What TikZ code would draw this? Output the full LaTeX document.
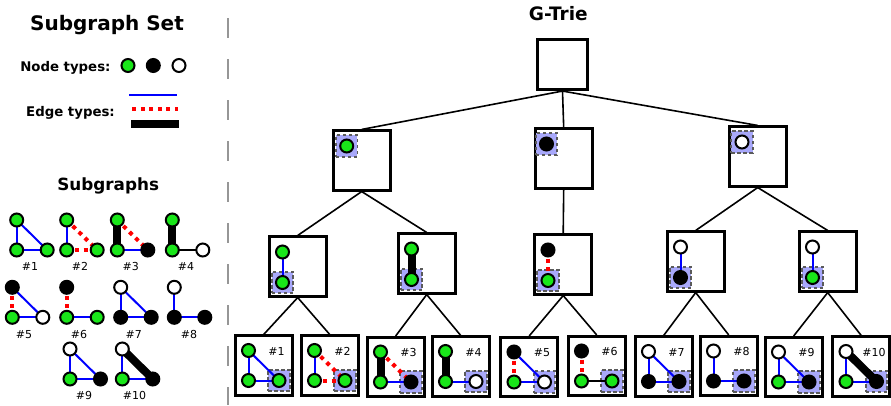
\documentclass[tikz,border=0pt]{standalone}
\usepackage{fontspec}
\setmainfont{DejaVu Sans}
\pgfdeclarelayer{treel}
\pgfdeclarelayer{boxl}
\pgfdeclarelayer{hll}
\pgfdeclarelayer{edgel}
\pgfsetlayers{treel,boxl,hll,edgel,main}
\definecolor{ggreen}{RGB}{25,230,25}
\definecolor{hlblue}{RGB}{168,168,250}
\definecolor{hlgray}{RGB}{90,90,90}
\definecolor{sepgray}{RGB}{150,150,150}
\tikzset{
  vx/.style={circle, draw=black, line width=2pt, minimum size=13pt, inner sep=0pt},
  gn/.style={vx, fill=ggreen},
  bn/.style={vx, fill=black},
  wn/.style={vx, fill=white},
  be/.style={draw=blue, line width=2pt},
  re/.style={draw=red, line width=4pt, dash pattern=on 4pt off 4.5pt},
  ke/.style={draw=black, line width=8pt},
  te/.style={draw=black, line width=1.6pt},
  tbox/.style={draw=black, fill=white, line width=2.6pt, inner sep=0pt, minimum width=57pt, minimum height=59.5pt},
  rbox/.style={draw=black, fill=white, line width=2.6pt, inner sep=0pt, minimum width=50.5pt, minimum height=50.5pt},
  hl/.style={draw=hlgray, fill=hlblue, line width=1.6pt, dash pattern=on 3.5pt off 2.5pt, inner sep=0pt, minimum size=21.5pt},
  tl/.style={draw=black, line width=1.6pt},
  lbl/.style={inner sep=0pt, font=\fontsize{11}{12}\selectfont},
  ttl/.style={inner sep=0pt, font=\bfseries\fontsize{20}{24}\selectfont},
  sub/.style={inner sep=0pt, font=\bfseries\fontsize{13.3}{15}\selectfont},
  sep/.style={draw=sepgray, line width=2pt, dash pattern=on 20pt off 21pt}
}
% leaf: name, x0, y0, label, top, bl, br
\newcommand\mkleaf[7]{%
  \begin{pgfonlayer}{boxl}\node[tbox] (#1) at (#2+29.7,#3+31) {};\end{pgfonlayer}
  \begin{pgfonlayer}{hll}\node[hl] (#1h) at (#2+45,#3+46) {};\end{pgfonlayer}
  \node[#5] (#1t) at (#2+14.5,#3+16) {};
  \node[#6] (#1l) at (#2+14.5,#3+46) {};
  \node[#7] (#1r) at (#2+45,#3+46) {};
  \node[lbl, anchor=base] (#1n) at (#2+42.5,#3+20.7) {#4};
}
% level two: name, x0, y0, top, bottom, edge style
\newcommand\mktwo[6]{%
  \begin{pgfonlayer}{boxl}\node[tbox] (#1) at (#2+29.7,#3+30.5) {};\end{pgfonlayer}
  \begin{pgfonlayer}{hll}\node[hl] (#1h) at (#2+14.5,#3+46.5) {};\end{pgfonlayer}
  \node[#4] (#1t) at (#2+14.5,#3+16) {};
  \node[#5] (#1b) at (#2+14.5,#3+46.5) {};
  \begin{pgfonlayer}{edgel}\draw[#6] (#1t.center) -- (#1b.center);\end{pgfonlayer}
}
% level one: name, x0, y0, style, node x offset
\newcommand\mkone[5]{%
  \begin{pgfonlayer}{boxl}\node[tbox] (#1) at (#2+29.7,#3+30.5) {};\end{pgfonlayer}
  \begin{pgfonlayer}{hll}\node[hl] (#1h) at (#2+#5,#3+16) {};\end{pgfonlayer}
  \node[#4] (#1t) at (#2+#5,#3+16) {};
}
% thumbnail: name, x, y, top, bl, br, label, label x, label baseline
\newcommand\mkthumb[9]{%
  \node[#4] (#1t) at (#2,#3) {};
  \node[#5] (#1l) at (#2,#3+30) {};
  \node[#6] (#1r) at (#2+30.5,#3+30) {};
  \node[lbl, anchor=base] (#1n) at (#8,#9) {#7};
}
\newcommand\eg[3]{\begin{pgfonlayer}{edgel}\draw[#1] (#2.center) -- (#3.center);\end{pgfonlayer}}
\begin{document}
\begin{tikzpicture}[x=1pt,y=-1pt]
\useasboundingbox (0,0) rectangle (891,405);
% ---- left panel ----
\node[ttl, anchor=base] (t1) at (107,30) {Subgraph Set};
\node[sub, anchor=base east] (nt) at (110.7,71) {Node types:};
\node[gn] (lg) at (128,65.5) {};
\node[bn] (lb) at (153.3,65.5) {};
\node[wn] (lw) at (179,65.5) {};
\node[sub, anchor=base east] (et) at (115,116) {Edge types:};
\coordinate (eb1) at (129.3,95.3); \coordinate (eb2) at (177.3,95.3);
\coordinate (er1) at (132.3,108.7); \coordinate (er2) at (178,108.7);
\coordinate (ek1) at (131,124); \coordinate (ek2) at (179,124);
\draw[be] (eb1) -- (eb2);
\draw[re] (er1) -- (er2);
\draw[ke] (ek1) -- (ek2);
\coordinate (s1) at (228,18); \coordinate (s2) at (228,405);
\draw[sep] (s1) -- (s2);
\node[anchor=base, inner sep=0pt, font=\bfseries\fontsize{16.8}{19}\selectfont] (t2) at (108.2,190.7) {Subgraphs};
% thumbnails
\mkthumb{S1}{16.7}{220}{gn}{gn}{gn}{\#1}{30}{270.5}
\eg{be}{S1t}{S1l}\eg{be}{S1l}{S1r}\eg{be}{S1t}{S1r}
\mkthumb{S2}{66.7}{220}{gn}{gn}{gn}{\#2}{80}{270.5}
\eg{be}{S2t}{S2l}\eg{re}{S2l}{S2r}\eg{re}{S2t}{S2r}
\mkthumb{S3}{117.3}{220}{gn}{gn}{bn}{\#3}{130.7}{270.5}
\eg{ke}{S3t}{S3l}\eg{be}{S3l}{S3r}\eg{re}{S3t}{S3r}
\mkthumb{S4}{172.3}{220}{gn}{gn}{wn}{\#4}{186}{270.5}
\eg{ke}{S4t}{S4l}\eg{te}{S4l}{S4r}
\mkthumb{S5}{12.3}{287.3}{bn}{gn}{wn}{\#5}{24}{338}
\eg{re}{S5t}{S5l}\eg{be}{S5l}{S5r}\eg{be}{S5t}{S5r}
\mkthumb{S6}{66.7}{287.3}{bn}{gn}{gn}{\#6}{79}{338}
\eg{re}{S6t}{S6l}\eg{be}{S6l}{S6r}
\mkthumb{S7}{120.7}{287.3}{wn}{bn}{bn}{\#7}{133.7}{338}
\eg{be}{S7t}{S7l}\eg{be}{S7l}{S7r}\eg{be}{S7t}{S7r}
\mkthumb{S8}{174.3}{287.3}{wn}{bn}{bn}{\#8}{189}{338}
\eg{be}{S8t}{S8l}\eg{be}{S8l}{S8r}
\mkthumb{S9}{70}{349}{wn}{gn}{bn}{\#9}{84}{399.3}
\eg{be}{S9t}{S9l}\eg{be}{S9l}{S9r}\eg{be}{S9t}{S9r}
\mkthumb{S10}{122.3}{349}{wn}{gn}{bn}{\#10}{134.5}{399.3}
\eg{be}{S10t}{S10l}\eg{be}{S10l}{S10r}\eg{ke}{S10t}{S10r}
% ---- G-Trie ----
\node[ttl, anchor=base, font=\bfseries\fontsize{18.5}{22}\selectfont] (t3) at (558.3,20.7) {G-Trie};
\begin{pgfonlayer}{boxl}\node[rbox] (R) at (562.5,64.5) {};\end{pgfonlayer}
\mkone{A}{332}{130}{gn}{14.7}
\mkone{B}{534}{128}{bn}{12.5}
\mkone{C}{728}{126}{wn}{14}
\mktwo{D}{268}{236}{gn}{gn}{be}
\mktwo{E}{397}{233}{gn}{gn}{ke}
\mktwo{F}{533.5}{234}{bn}{gn}{re}
\mktwo{G}{666}{231}{wn}{bn}{be}
\mktwo{H}{798}{231}{wn}{gn}{be}
\mkleaf{L1}{234}{334.5}{\#1}{gn}{gn}{gn}
\eg{be}{L1t}{L1l}\eg{be}{L1l}{L1r}\eg{be}{L1t}{L1r}
\mkleaf{L2}{300}{334.5}{\#2}{gn}{gn}{gn}
\eg{be}{L2t}{L2l}\eg{re}{L2l}{L2r}\eg{re}{L2t}{L2r}
\mkleaf{L3}{366}{336}{\#3}{gn}{gn}{bn}
\eg{ke}{L3t}{L3l}\eg{be}{L3l}{L3r}\eg{re}{L3t}{L3r}
\mkleaf{L4}{431}{335.5}{\#4}{gn}{gn}{wn}
\eg{ke}{L4t}{L4l}\eg{be}{L4l}{L4r}
\mkleaf{L5}{499.5}{336}{\#5}{bn}{gn}{wn}
\eg{re}{L5t}{L5l}\eg{be}{L5l}{L5r}\eg{be}{L5t}{L5r}
\mkleaf{L6}{567}{335}{\#6}{bn}{gn}{gn}
\eg{re}{L6t}{L6l}\eg{te}{L6l}{L6r}
\mkleaf{L7}{634}{335.5}{\#7}{wn}{bn}{bn}
\eg{be}{L7t}{L7l}\eg{be}{L7l}{L7r}\eg{be}{L7t}{L7r}
\mkleaf{L8}{699}{335}{\#8}{wn}{bn}{bn}
\eg{be}{L8t}{L8l}\eg{be}{L8l}{L8r}
\mkleaf{L9}{764}{336}{\#9}{wn}{gn}{bn}
\eg{be}{L9t}{L9l}\eg{be}{L9l}{L9r}\eg{be}{L9t}{L9r}
\mkleaf{L10}{831.5}{335.5}{\#10}{wn}{gn}{bn}
\eg{be}{L10t}{L10l}\eg{be}{L10l}{L10r}\eg{ke}{L10t}{L10r}
% tree connectors
\begin{pgfonlayer}{treel}
\foreach \p/\c in {R/A,R/B,R/C,A/D,A/E,B/F,C/G,C/H,D/L1,D/L2,E/L3,E/L4,F/L5,F/L6,G/L7,G/L8,H/L9,H/L10}
  \draw[tl] (\p.south) -- (\c.north);
\end{pgfonlayer}
\end{tikzpicture}
\end{document}
